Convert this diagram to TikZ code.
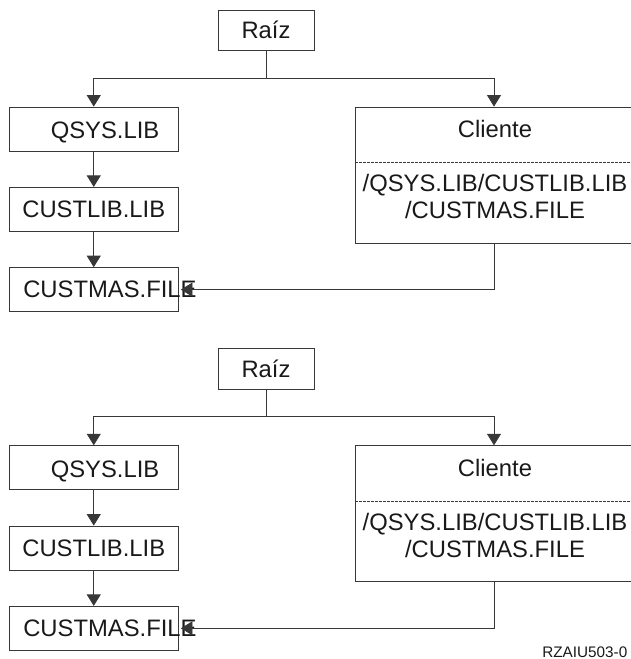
\documentclass[tikz,border=0pt]{standalone}
\usepackage{fontspec}
\setmainfont{Liberation Sans}
\usetikzlibrary{positioning,arrows.meta}
\definecolor{inkline}{gray}{0.22}
\definecolor{inktext}{gray}{0.1}

\begin{document}
\begin{tikzpicture}[
  x=1pt, y=-1pt,
  >={Triangle[length=11.5pt,width=14pt]},
  node distance=35.5pt,
  box/.style={
    rectangle, draw=inkline, line width=.8pt, inner sep=0pt,
    text=inktext, font=\fontsize{23.8}{27}\selectfont
  },
  libbox/.style={box, minimum width=169.5pt, minimum height=44pt,
    text height=16.5pt, text depth=0pt},
  rootbox/.style={box, minimum width=96pt, minimum height=40.5pt},
  clientbox/.style={box, minimum width=276.6pt, minimum height=136pt},
  plain/.style={
    inner sep=0pt, align=center, text=inktext,
    font=\fontsize{23.8}{27}\selectfont
  },
  arrow/.style={->, draw=inkline, line width=.8pt},
  sidearrow/.style={arrow, shorten >=2pt},
  link/.style={draw=inkline, line width=.8pt},
  divider/.style={draw=inkline, line width=.6pt, dash pattern=on 2.5pt off 1.5pt}
]
\useasboundingbox (0,0) rectangle (631,659);

% upper tree
\node (r1) [rootbox] at (266,30.3) {Raíz};
\node (q1) [libbox] at (93.75,129) {\hspace*{22.5pt}\raisebox{-1.4pt}{QSYS.LIB}};
\node (l1) [libbox, below=of q1] {CUSTLIB.LIB};
\node (f1) [libbox, below=of l1]
  {\makebox[169.5pt][l]{\hspace*{14.3pt}CUSTMAS.FILE}};
\node (c1) [clientbox] at (494,175) {};
\node (t1) [plain] at (495,129) {Cliente};
\node (p1) [plain] at (495,196.5) {/QSYS.LIB/CUSTLIB.LIB\\/CUSTMAS.FILE};

\draw[link] (r1.south) -- (266,78) coordinate (j1);
\draw[arrow] (j1) -| (q1.north);
\draw[arrow] (j1) -| (c1.north);
\draw[arrow] (q1) -- (l1);
\draw[arrow] (l1) -- (f1);
\draw[sidearrow] (c1.south) |- (f1.east);
\draw[divider] ([yshift=-55.5pt]c1.north west) -- ([yshift=-55.5pt]c1.north east);

% lower tree
\node (r2) [rootbox] at (266,369) {Raíz};
\node (q2) [libbox] at (93.75,467.7) {\hspace*{22.5pt}\raisebox{-1.4pt}{QSYS.LIB}};
\node (l2) [libbox, below=of q2] {CUSTLIB.LIB};
\node (f2) [libbox, below=of l2]
  {\makebox[169.5pt][l]{\hspace*{14.3pt}CUSTMAS.FILE}};
\node (c2) [clientbox] at (494,513.7) {};
\node (t2) [plain] at (495,467.7) {Cliente};
\node (p2) [plain] at (495,535.2) {/QSYS.LIB/CUSTLIB.LIB\\/CUSTMAS.FILE};

\draw[link] (r2.south) -- (266,416.7) coordinate (j2);
\draw[arrow] (j2) -| (q2.north);
\draw[arrow] (j2) -| (c2.north);
\draw[arrow] (q2) -- (l2);
\draw[arrow] (l2) -- (f2);
\draw[sidearrow] (c2.south) |- (f2.east);
\draw[divider] ([yshift=-55.5pt]c2.north west) -- ([yshift=-55.5pt]c2.north east);

\node (tag) [plain, anchor=east, font=\fontsize{15.3}{17}\selectfont] at (627.5,652) {RZAIU503-0};
\end{tikzpicture}
\end{document}
